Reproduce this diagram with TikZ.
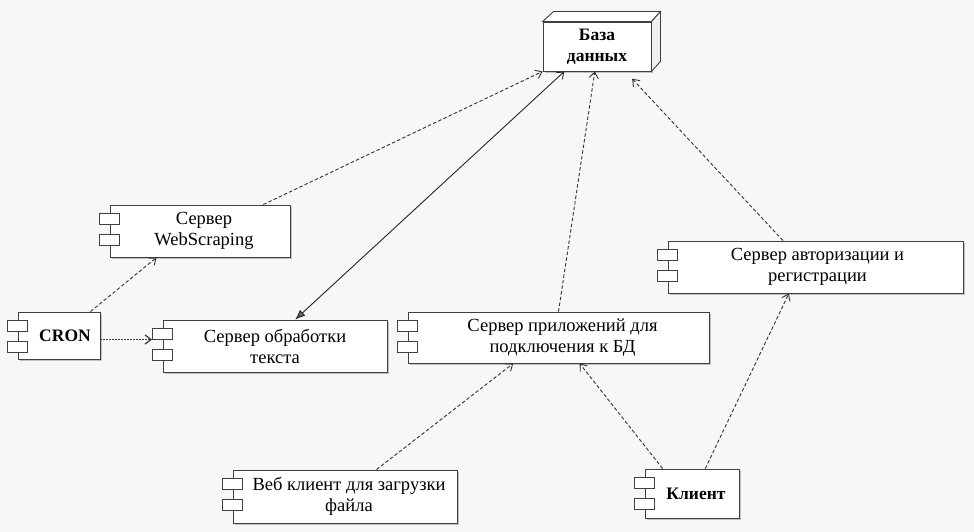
\documentclass[tikz,border=0pt]{standalone}
\usepackage{fontspec}
\setmainfont{Liberation Serif}
\usetikzlibrary{arrows.meta,calc,shadows}
\tikzset{
  comp/.style={draw=black!75, line width=0.9pt, fill=white, align=center,
    font=\fontsize{18.5}{21}\selectfont, inner sep=0pt,
    drop shadow={shadow xshift=2pt, shadow yshift=-2pt, opacity=0.22, fill=black}},
  boldtext/.style={font=\fontsize{17.5}{21}\selectfont\bfseries},
  tabbox/.style={draw=black!75, line width=0.9pt, fill=white, minimum width=20pt,
    minimum height=11pt, inner sep=0pt},
  dep/.style={draw=black!80, line width=0.9pt, dash pattern=on 3.5pt off 2.2pt,
    -{Straight Barb[length=6pt,width=9pt]}},
  dotdep/.style={draw=black!75, line width=1.3pt, dash pattern=on 1.4pt off 1.6pt,
    -{Straight Barb[length=6pt,width=9pt]}},
  assoc/.style={draw=black!85, line width=0.9pt,
    {Latex[length=10pt,width=8pt,fill=black!60]}-{Straight Barb[length=6pt,width=9pt]}}
}
\newcommand\comptabs[1]{%
  \node[tabbox] (#1-t1) at ([yshift=-14pt]#1.north west) {};
  \node[tabbox] (#1-t2) at ([yshift=-35pt]#1.north west) {};}
\begin{document}
\begin{tikzpicture}[x=1pt,y=-1pt]
\useasboundingbox[fill=black!3] (0,0) rectangle (974,532);

% Database (3D box)
\node[comp, boldtext, minimum width=108pt, minimum height=49pt] (db) at (597,46.5) {База\\данных};
\draw[draw=black!75, line width=0.9pt, fill=white] (db.north west) -- ($(db.north west)+(11,-10)$) -- ($(db.north east)+(9,-10)$) -- (db.north east) -- cycle;
\draw[draw=black!75, line width=0.9pt, fill=black!6] (db.north east) -- ($(db.north east)+(9,-10)$) -- ($(db.south east)+(9,-10)$) -- (db.south east) -- cycle;

% Components
\node[comp, minimum width=180pt, minimum height=52pt] (ws) at (200,231) {\hspace*{8pt}Сервер\\\hspace*{8pt}WebScraping};
\comptabs{ws}
\node[comp, boldtext, minimum width=82pt, minimum height=47pt] (cron) at (59,335.5) {\hspace*{12pt}CRON};
\comptabs{cron}
\node[comp, minimum width=224pt, minimum height=52pt] (txt) at (275,346) {Сервер обработки\\текста};
\comptabs{txt}
\node[comp, minimum width=301pt, minimum height=51pt] (app) at (558.5,337.5) {\hspace*{8pt}Сервер приложений для\\\hspace*{8pt}подключения к БД};
\comptabs{app}
\node[comp, minimum width=295pt, minimum height=52pt] (auth) at (815.5,267) {\hspace*{4pt}Сервер авторизации и\\\hspace*{4pt}регистрации};
\comptabs{auth}
\node[comp, minimum width=224pt, minimum height=53pt] (web) at (345,496.5) {\hspace*{8pt}Веб клиент для загрузки\\\hspace*{8pt}файла};
\comptabs{web}
\node[comp, boldtext, minimum width=94pt, minimum height=49pt] (cli) at (692,493.5) {\hspace*{8pt}Клиент};
\comptabs{cli}

% Connectors
\draw[dep] ($(ws.north west)!0.85!(ws.north east)$) -- (db.south west);
\draw[assoc] ($(txt.north west)!0.59!(txt.north east)$) -- ($(db.south west)!0.2!(db.south east)$);
\draw[dep] (app.north) -- ($(db.south west)!0.48!(db.south east)$);
\draw[dep, shorten >=10pt] ($(auth.north west)!0.39!(auth.north east)$) -- ($(db.south west)!0.76!(db.south east)$);
\draw[dep] ($(cron.north west)!0.88!(cron.north east)$) -- ($(ws.south west)!0.26!(ws.south east)$);
\draw[dotdep] ([yshift=-4pt]cron.east) -- ([yshift=-4pt]cron.east -| txt-t1.west);
\draw[dep] ($(web.north west)!0.64!(web.north east)$) -- ($(app.south west)!0.35!(app.south east)$);
\draw[dep] ($(cli.north west)!0.19!(cli.north east)$) -- ($(app.south west)!0.57!(app.south east)$);
\draw[dep] ($(cli.north west)!0.64!(cli.north east)$) -- ($(auth.south west)!0.41!(auth.south east)$);
\end{tikzpicture}
\end{document}
